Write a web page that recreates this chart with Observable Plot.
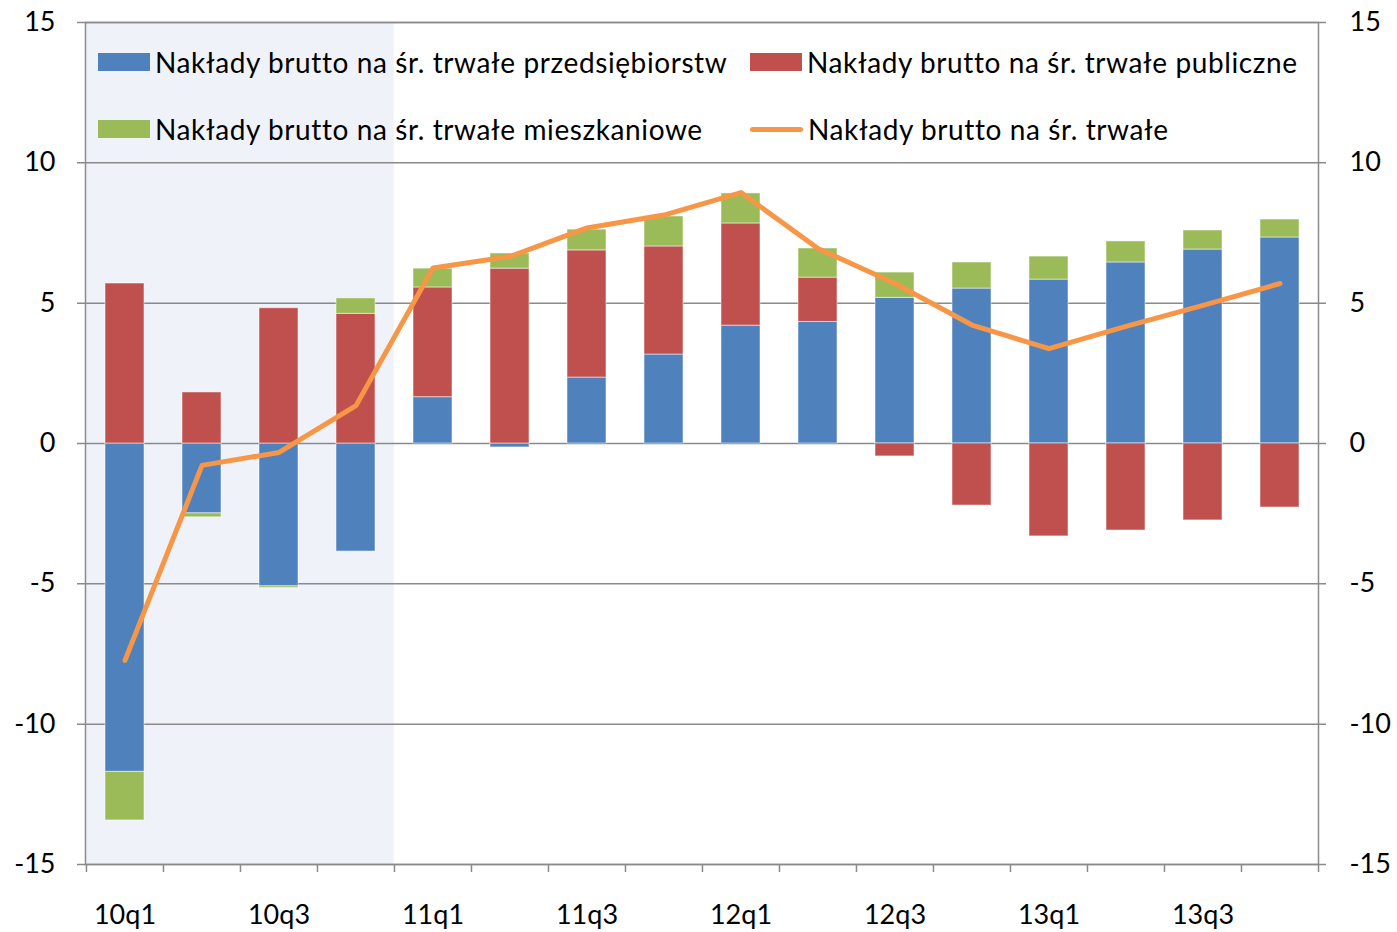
<!DOCTYPE html>
<html><head><meta charset="utf-8">
<script src="https://cdn.jsdelivr.net/npm/d3@7"></script>
<script src="https://cdn.jsdelivr.net/npm/@observablehq/plot@0.6"></script>
<style>
body{margin:0;background:#fff;}
#wrap{position:relative;width:1397px;height:932px;font-family:Lato,"Open Sans",sans-serif;}
#wrap svg{position:absolute;left:0;top:0;}
.leg{position:absolute;display:flex;align-items:center;font-size:28px;letter-spacing:0.6px;line-height:30px;color:#000;white-space:nowrap;}
.sw{width:52px;height:18px;margin-right:5px;flex:none;}
.ln{width:53px;height:5px;margin-right:5px;border-radius:2.5px;flex:none;}
</style></head><body><div id="wrap"></div>
<script>
const quarters = ["10q1","10q2","10q3","10q4","11q1","11q2","11q3","11q4","12q1","12q2","12q3","12q4","13q1","13q2","13q3","13q4"];
const tickLabels = ["10q1","10q3","11q1","11q3","12q1","12q3","13q1","13q3"];
const shadedQuarters = ["10q1","10q2","10q3","10q4"];
const yTicks = [-15,-10,-5,0,5,10,15];
const seriesNames = [
  "Nakłady brutto na śr. trwałe przedsiębiorstw",
  "Nakłady brutto na śr. trwałe publiczne",
  "Nakłady brutto na śr. trwałe mieszkaniowe",
  "Nakłady brutto na śr. trwałe"
];
const enterprise = [-11.70,-2.49,-5.09,-3.85,1.65,-0.14,2.35,3.17,4.20,4.33,5.19,5.52,5.84,6.45,6.91,7.34];
const publicInv  = [5.70,1.82,4.82,4.62,3.91,6.23,4.53,3.85,3.64,1.58,-0.46,-2.21,-3.31,-3.10,-2.74,-2.28];
const housing    = [-1.73,-0.14,-0.06,0.55,0.67,0.54,0.74,1.07,1.07,1.04,0.90,0.93,0.82,0.75,0.68,0.64];
const total      = [-7.73,-0.78,-0.32,1.35,6.25,6.66,7.68,8.14,8.94,6.95,5.70,4.22,3.38,4.17,4.92,5.70];

const barColors = ["#4F81BD","#C0504D","#9BBB59"];
const lineColor = "#F79646";
const gridColor = "#8A8A8A";
const shadeColor = "#EFF3F9";

const W = 1397, H = 932, mL = 85, mR = 79, mT = 22, mB = 68;
const step = (W - mL - mR) / quarters.length;
const gap = step * 0.5;

const seriesValues = [enterprise, publicInv, housing];
const bars = [];
quarters.forEach((q, i) => {
  seriesValues.forEach((arr, s) => bars.push({q, series: seriesNames[s], value: arr[i]}));
});
const lineData = quarters.map((q, i) => ({q, value: total[i]}));

const chart = Plot.plot({
  width: W, height: H,
  marginLeft: mL, marginRight: mR, marginTop: mT, marginBottom: mB,
  style: {fontFamily: "Lato, 'Open Sans', sans-serif", fontSize: "27px", color: "#000", background: "transparent"},
  x: {type: "band", domain: quarters, paddingInner: 0.5, paddingOuter: 0.25, label: null},
  y: {domain: [-15, 15], label: null},
  color: {domain: seriesNames.slice(0, 3), range: barColors},
  marks: [
    Plot.barY(shadedQuarters, {x: d => d, y1: -15, y2: 15, fill: shadeColor, insetLeft: -gap / 2 - 0.5, insetRight: -gap / 2 + 0.5}),
    Plot.ruleY(yTicks, {y: d => d, stroke: gridColor, strokeWidth: 1.5, insetLeft: -8, insetRight: -8}),
    Plot.ruleX(quarters, {x: d => d, y1: -15, y2: -15, dx: -step / 2, insetBottom: -8, stroke: gridColor, strokeWidth: 1.5}),
    Plot.ruleX(quarters.slice(-1), {x: d => d, y1: -15, y2: -15, dx: step / 2, insetBottom: -8, stroke: gridColor, strokeWidth: 1.5}),
    Plot.frame({stroke: gridColor, strokeWidth: 1.5}),
    Plot.barY(bars, Plot.stackY({order: seriesNames.slice(0,3)}, {x: "q", y: "value", fill: "series", stroke: "#fff", strokeOpacity: 0.5, strokeWidth: 1})),
    Plot.line(lineData, {x: "q", y: "value", stroke: lineColor, strokeWidth: 5, strokeLinejoin: "round", strokeLinecap: "round"}),
    Plot.axisY(yTicks, {anchor: "left", tickSize: 0, tickPadding: 30, fontSize: 27, tickFormat: d => String(d)}),
    Plot.axisY(yTicks, {anchor: "right", tickSize: 0, tickPadding: 31, fontSize: 27, tickFormat: d => String(d)}),
    Plot.axisX(tickLabels, {anchor: "bottom", tickSize: 0, tickPadding: 40, fontSize: 27})
  ]
});

const wrap = document.getElementById("wrap");
wrap.appendChild(chart);

const legendItems = [
  {name: seriesNames[0], kind: "sw", color: barColors[0], left: 98, top: 47},
  {name: seriesNames[1], kind: "sw", color: barColors[1], left: 750, top: 47},
  {name: seriesNames[2], kind: "sw", color: barColors[2], left: 98, top: 114},
  {name: seriesNames[3], kind: "ln", color: lineColor, left: 750, top: 114}
];
legendItems.forEach(it => {
  const d = document.createElement("div");
  d.className = "leg";
  d.style.left = it.left + "px";
  d.style.top = it.top + "px";
  const s = document.createElement("span");
  s.className = it.kind;
  s.style.background = it.color;
  const t = document.createElement("span");
  t.textContent = it.name;
  d.appendChild(s); d.appendChild(t);
  wrap.appendChild(d);
});
</script>
</body></html>
